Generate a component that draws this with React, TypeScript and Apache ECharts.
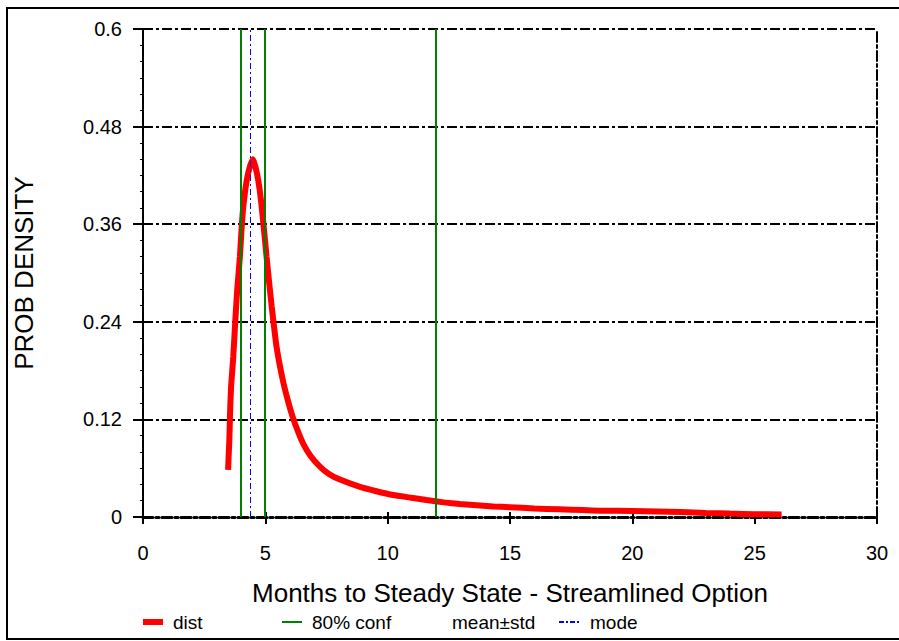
import React, { useEffect, useRef } from 'react';
import * as echarts from 'echarts';

const FONT = '"Liberation Sans", Arial, sans-serif';

const distX = [3.48, 3.5, 3.53, 3.56, 3.6, 3.69, 3.77, 3.85, 3.96, 4.03, 4.1, 4.24, 4.38, 4.5, 4.6, 4.71, 4.82, 4.92, 5.05, 5.15, 5.26, 5.46, 5.73, 5.95, 6.14, 6.35, 6.55, 6.85, 7.23, 7.6, 8.05, 8.87, 9.5, 10.23, 10.9, 11.59, 12.3, 12.95, 14.32, 15, 16, 17, 18, 18.68, 20, 21, 22, 23, 24, 25, 26.1];
const distY = [0.058, 0.075, 0.095, 0.13, 0.16, 0.197, 0.24, 0.279, 0.32, 0.355, 0.382, 0.414, 0.432, 0.44, 0.43, 0.414, 0.39, 0.361, 0.32, 0.29, 0.259, 0.209, 0.166, 0.14, 0.121, 0.104, 0.09, 0.075, 0.062, 0.053, 0.046, 0.037, 0.032, 0.027, 0.024, 0.021, 0.018, 0.016, 0.013, 0.012, 0.0105, 0.0095, 0.0085, 0.0078, 0.0075, 0.0068, 0.006, 0.005, 0.0042, 0.0035, 0.003];
const confLines = [3.98, 4.97, 11.97];
const modeLines = [4.39];
const legendNames = ['dist', '80% conf', 'mean\u00b1std', 'mode'];
const xTitle = 'Months to Steady State - Streamlined Option';
const yTitle = 'PROB DENSITY';

const DASHDOT = [10, 3, 3, 3];

export default function App() {
  const ref = useRef<HTMLDivElement>(null);
  useEffect(() => {
    if (!ref.current) return;
    const chart = echarts.init(ref.current, null, { renderer: 'svg' });
    const legendY = 622;
    const option: any = {
      animation: false,
      backgroundColor: '#fff',
      textStyle: { fontFamily: FONT },
      grid: { left: 143, right: 22, top: 29, bottom: 124, containLabel: false },
      xAxis: [
        {
          type: 'value', min: 0, max: 30, interval: 5,
          name: xTitle, nameLocation: 'middle', nameGap: 63,
          nameTextStyle: { fontSize: 26, color: '#000', fontFamily: FONT },
          axisLine: { show: true, onZero: false, lineStyle: { color: '#000', width: 3, type: DASHDOT } },
          axisTick: { show: true, inside: false, length: 7, lineStyle: { color: '#000', width: 2 } },
          axisLabel: { fontSize: 20, color: '#000', margin: 26, fontFamily: FONT },
          splitLine: { show: false },
        },
        {
          type: 'value', min: 0, max: 30, interval: 5, position: 'bottom',
          axisLine: { show: false },
          axisTick: { show: true, inside: true, length: 5, lineStyle: { color: '#000', width: 2 } },
          axisLabel: { show: false },
          splitLine: { show: false },
        },
      ],
      yAxis: [
        {
          type: 'value', min: 0, max: 0.6, interval: 0.12,
          name: yTitle, nameLocation: 'middle', nameGap: 106,
          nameTextStyle: { fontSize: 26, color: '#000', fontFamily: FONT },
          axisLine: { show: true, onZero: false, lineStyle: { color: '#000', width: 2 } },
          axisTick: { show: true, inside: false, length: 10, lineStyle: { color: '#000', width: 2 } },
          minorTick: { show: true, splitNumber: 6, length: 3, lineStyle: { color: '#000', width: 1 } },
          axisLabel: { fontSize: 20, color: '#000', margin: 21, fontFamily: FONT },
          splitLine: { show: true, lineStyle: { color: '#000', width: 2, type: DASHDOT } },
        },
        {
          type: 'value', min: 0, max: 0.6, interval: 0.12, position: 'right',
          axisLine: { show: true, onZero: false, lineStyle: { color: '#000', width: 2, type: DASHDOT } },
          axisTick: { show: false },
          axisLabel: { show: false },
          splitLine: { show: false },
        },
      ],
      series: [
        {
          name: legendNames[1], type: 'line', data: [], silent: true, z: 2,
          markLine: {
            silent: true, symbol: ['none', 'none'], label: { show: false },
            lineStyle: { color: '#008000', width: 2, type: 'solid' },
            data: confLines.map((v) => ({ xAxis: v })),
          },
        },
        {
          name: legendNames[0], type: 'line', showSymbol: false, smooth: 0.15, z: 3,
          lineStyle: { color: '#ff0000', width: 6 },
          data: distX.map((x, i) => [x, distY[i]]),
        },
        {
          name: legendNames[3], type: 'line', data: [], silent: true, z: 4,
          markLine: {
            silent: true, symbol: ['none', 'none'], label: { show: false },
            lineStyle: { color: '#0000ff', width: 1, type: [6, 3, 2, 3] },
            data: modeLines.map((v) => ({ xAxis: v })),
          },
        },
      ],
      graphic: [
        { type: 'rect', shape: { x: 7, y: 8, width: 900, height: 631 }, style: { fill: 'none', stroke: '#000', lineWidth: 2 }, z: 0 },
        { type: 'line', shape: { x1: 143, y1: legendY, x2: 163, y2: legendY }, style: { stroke: '#ff0000', lineWidth: 6 } },
        { type: 'text', x: 173, y: legendY, style: { text: legendNames[0], font: `19px ${FONT}`, fill: '#000', textVerticalAlign: 'middle' } },
        { type: 'line', shape: { x1: 282, y1: legendY, x2: 302, y2: legendY }, style: { stroke: '#008000', lineWidth: 2 } },
        { type: 'text', x: 312, y: legendY, style: { text: legendNames[1], font: `19px ${FONT}`, fill: '#000', textVerticalAlign: 'middle' } },
        { type: 'text', x: 452, y: legendY, style: { text: legendNames[2], font: `19px ${FONT}`, fill: '#000', textVerticalAlign: 'middle' } },
        { type: 'line', shape: { x1: 559, y1: legendY, x2: 579, y2: legendY }, style: { stroke: '#0000ff', lineWidth: 2, lineDash: [5, 2, 2, 2] } },
        { type: 'text', x: 590, y: legendY, style: { text: legendNames[3], font: `19px ${FONT}`, fill: '#000', textVerticalAlign: 'middle' } },
      ],
    };
    chart.setOption(option);
    return () => chart.dispose();
  }, []);
  return <div ref={ref} style={{ position: 'fixed', left: 0, top: 0, width: 899, height: 641 }} />;
}
